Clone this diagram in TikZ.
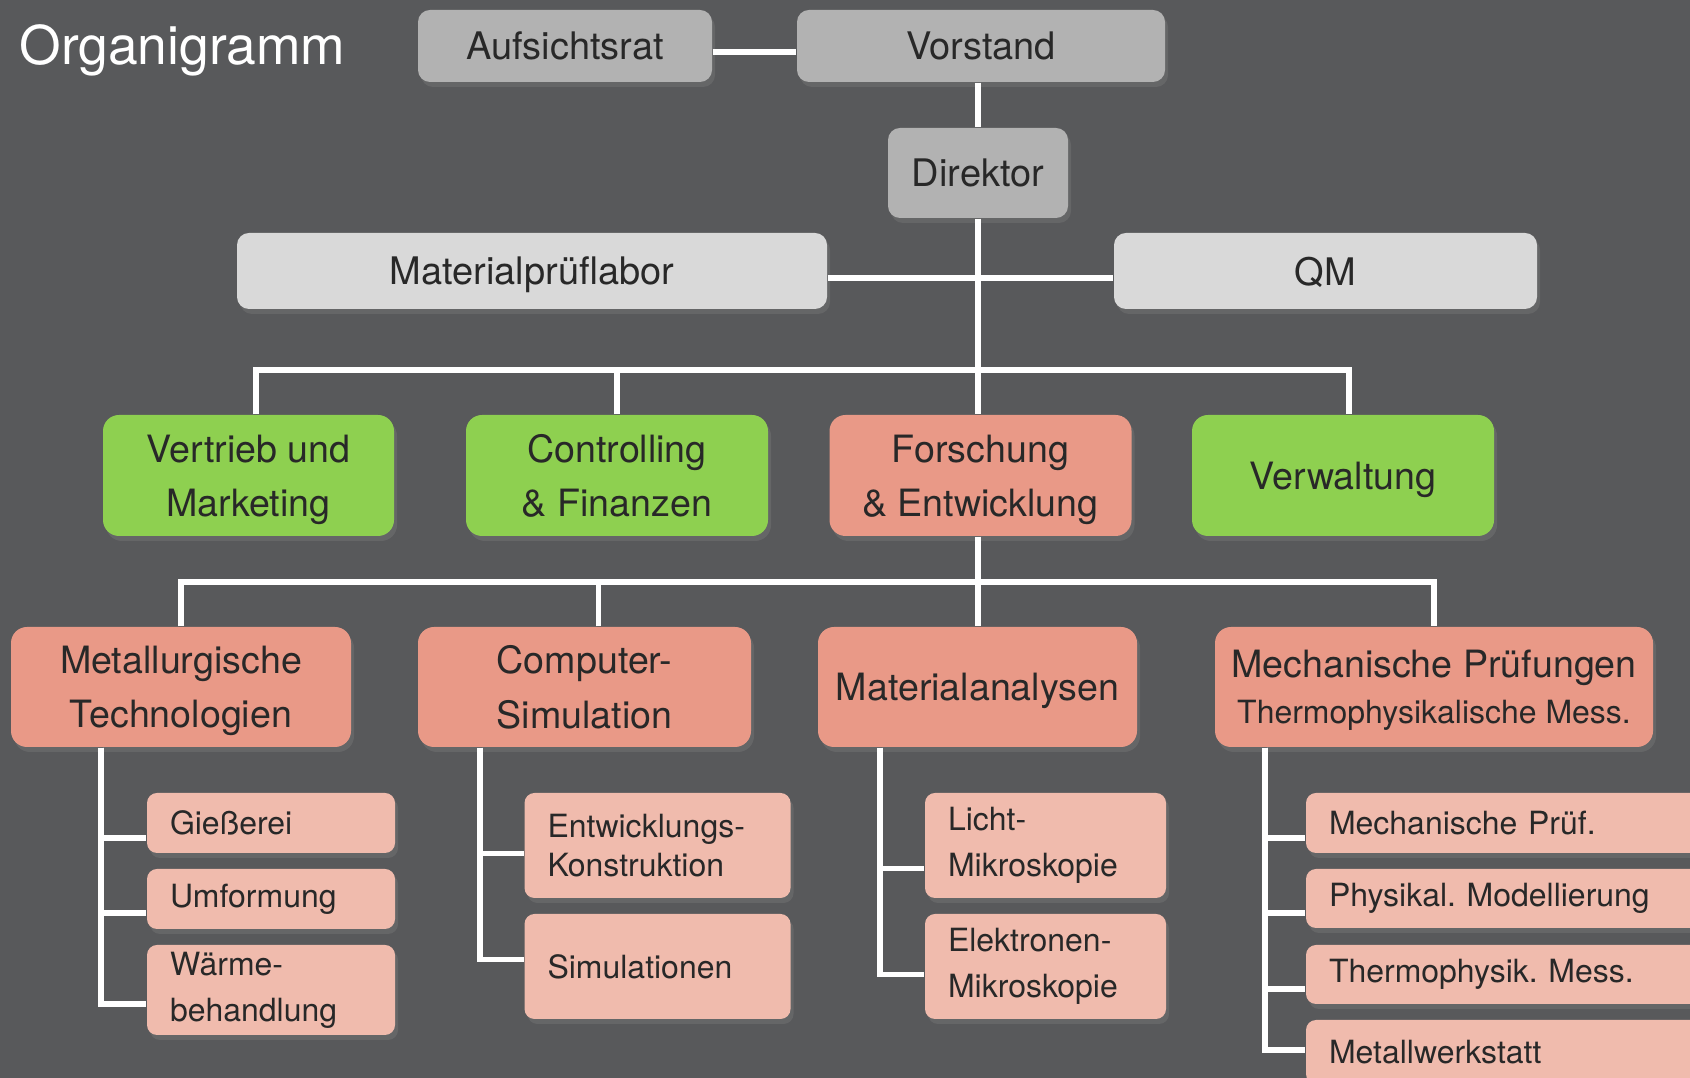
\documentclass[tikz,border=0pt]{standalone}
\usepackage{fontspec}
\setmainfont{TeX Gyre Heros}
\usetikzlibrary{shadows}
\frenchspacing

\definecolor{hintergrund}{RGB}{88,89,91}
\definecolor{dunkelgrau}{RGB}{178,178,178}
\definecolor{hellgrau}{RGB}{217,217,217}
\definecolor{gruen}{RGB}{142,208,80}
\definecolor{lachs}{RGB}{233,153,135}
\definecolor{hellachs}{RGB}{240,187,173}
\definecolor{schrift}{RGB}{40,40,40}

\tikzset{
  linie/.style={draw=white, line width=1.6pt},
  kasten/.style={rounded corners=1.2mm, text=schrift, inner sep=0pt, align=center,
    text depth=0pt,
    drop shadow={shadow xshift=0.3mm, shadow yshift=-0.5mm, opacity=0.35}},
  oben/.style={kasten, fill=dunkelgrau, font=\fontsize{10.8}{14}\selectfont},
  stab/.style={kasten, fill=hellgrau, font=\fontsize{10.8}{14}\selectfont},
  abt/.style={kasten, rounded corners=1.6mm, minimum height=1.21cm,
    font=\fontsize{10.7}{15.4}\selectfont},
  unter/.style={kasten, text depth={}, fill=hellachs, rounded corners=1mm, align=left,
    inner xsep=0.23cm, text width=#1, font=\fontsize{9.1}{13}\selectfont},
}

\begin{document}
\begin{tikzpicture}
\useasboundingbox (0,0) rectangle (16.9,10.78);
\clip (0,0) rectangle (16.9,10.78);
\fill[hintergrund] (0,0) rectangle (16.9,10.78);

\node[anchor=base west, inner sep=0pt, text=white, font=\fontsize{15.2}{18}\selectfont] (titel) at (0.19,10.13) {Organigramm};

% Leitung
\node[oben, minimum width=2.94cm, minimum height=0.72cm] (rat) at (5.65,10.32) {Aufsichtsrat};
\node[oben, minimum width=3.68cm, minimum height=0.72cm] (vorstand) at (9.81,10.32) {Vorstand};
\node[oben, minimum width=1.80cm, minimum height=0.90cm] (dir) at (9.78,9.05) {Direktor};
\node[stab, minimum width=5.90cm, minimum height=0.76cm] (labor) at (5.32,8.07) {Materialprüflabor};
\node[stab, minimum width=4.23cm, minimum height=0.76cm] (qm) at (13.255,8.07) {QM};

% Bereiche
\node[abt, fill=gruen, minimum width=2.91cm] (vm) at (2.485,6.025) {Vertrieb und\\Marketing};
\node[abt, fill=gruen, minimum width=3.02cm] (cf) at (6.17,6.025) {Controlling\\\& Finanzen};
\node[abt, fill=lachs, minimum width=3.02cm] (fe) at (9.805,6.025) {Forschung\\\& Entwicklung};
\node[abt, fill=gruen, minimum width=3.02cm] (vw) at (13.43,6.025) {Verwaltung};

% Abteilungen F&E
\node[abt, fill=lachs, minimum width=3.40cm, minimum height=1.20cm] (mt) at (1.81,3.91) {Metallurgische\\Technologien};
\node[abt, fill=lachs, minimum width=3.33cm, minimum height=1.20cm] (cs) at (5.845,3.91) {Computer-\\Simulation};
\node[abt, fill=lachs, minimum width=3.19cm, minimum height=1.20cm] (ma) at (9.775,3.91) {Materialanalysen};
\node[abt, fill=lachs, minimum width=4.38cm, minimum height=1.20cm] (mp) at (14.34,3.91)
  {Mechanische Prüfungen\\[-2.4pt]{\fontsize{9.1}{13}\selectfont Thermophysikalische Mess.}};

% Gruppen
\node[unter=2.02cm, minimum height=0.60cm] (gi) at (2.71,2.55) {Gießerei};
\node[unter=2.02cm, minimum height=0.60cm] (um) at (2.71,1.79) {Umformung};
\node[unter=2.02cm, minimum height=0.90cm] (wb) at (2.71,0.88) {Wärme-\\behandlung};
\node[unter=2.20cm, minimum height=1.05cm] (ek) at (6.575,2.325) {Entwicklungs-\\[-2pt]Konstruktion};
\node[unter=2.20cm, minimum height=1.05cm] (si) at (6.575,1.115) {Simulationen};
\node[unter=1.95cm, minimum height=1.05cm] (lm) at (10.455,2.325) {Licht-\\Mikroskopie};
\node[unter=1.95cm, minimum height=1.05cm] (em) at (10.455,1.115) {Elektronen-\\Mikroskopie};
\node[unter=3.78cm, minimum height=0.60cm] (mpf) at (15.18,2.55) {Mechanische Prüf.};
\node[unter=3.78cm, minimum height=0.59cm] (pm) at (15.18,1.795) {Physikal. Modellierung};
\node[unter=3.78cm, minimum height=0.59cm] (tm) at (15.18,1.035) {Thermophysik. Mess.};
\node[unter=3.78cm, minimum height=0.64cm] (mw) at (15.18,0.26) {Metallwerkstatt};

% Verbindungen
\draw[linie] ([yshift=-0.6mm]rat.east) -- ([yshift=-0.6mm]vorstand.west);
\draw[linie] (vorstand.south -| dir) -- (dir.north);
\draw[linie] ([yshift=-0.7mm]labor.east) -- ([yshift=-0.7mm]qm.west);
\draw[linie] (dir.south) -- (dir.south |- fe.north);
\coordinate (bus1) at (9.78,7.08);
\draw[linie] ([xshift=0.75mm]vm.north) |- (bus1) -| ([xshift=0.6mm]vw.north);
\draw[linie] (cf.north) -- (cf.north |- bus1);
\draw[linie] (dir.south |- fe.south) -- (dir.south |- ma.north);
\coordinate (bus2) at (9.78,4.96);
\draw[linie] (mt.north) |- (bus2) -| (mp.north);
\draw[linie] ([xshift=1.4mm]cs.north) -- ([xshift=1.4mm]cs.north |- bus2);

\foreach \n/\s in {gi/-1.5, um/-1.4, wb/-1.4}
  \draw[linie] ([xshift=-8mm]mt.south) |- ([yshift=\s mm]\n.west);
\foreach \n/\s in {ek/-0.8, si/0.7}
  \draw[linie] ([xshift=-10.45mm]cs.south) |- ([yshift=\s mm]\n.west);
\foreach \n/\s in {lm/-2.3, em/-0.8}
  \draw[linie] ([xshift=-9.75mm]ma.south) |- ([yshift=\s mm]\n.west);
\foreach \n/\s in {mpf/-1.5, pm/-1.45, tm/-1.45, mw/0.2}
  \draw[linie] ([xshift=-16.9mm]mp.south) |- ([yshift=\s mm]\n.west);
\end{tikzpicture}
\end{document}
